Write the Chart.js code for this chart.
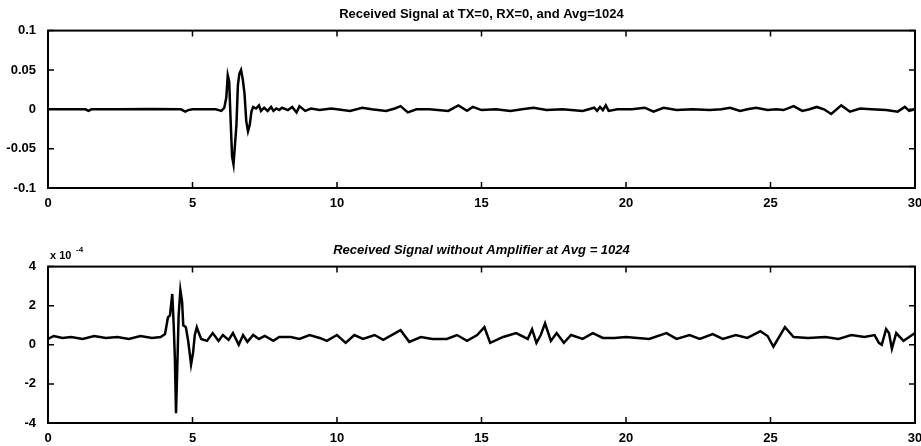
<!DOCTYPE html>
<html lang="en">
<head>
  <meta charset="UTF-8">
  <title>Received Signal</title>
  <script src="https://cdn.jsdelivr.net/npm/chart.js"></script>
  <style>
    body {
      margin: 0;
      background: #fff;
      width: 921px;
      height: 446px;
      position: relative;
      overflow: hidden;
    }
    canvas {
      position: absolute;
      left: 0;
    }
    #topCanvas { top: 0; }
    #bottomCanvas { top: 216px; }
  </style>
</head>
<body>
  <canvas id="topCanvas" width="921" height="216"></canvas>
  <canvas id="bottomCanvas" width="921" height="230"></canvas>

  <script>
    // time axis (same for both plots)
    const xTicks = [0, 5, 10, 15, 20, 25, 30];

    // top plot: received signal with amplifier
    const topTitle = 'Received Signal at TX=0, RX=0, and Avg=1024';
    const topYTicks = [-0.1, -0.05, 0, 0.05, 0.1];
    const topTime = [
      0, 0.5, 1.0, 1.3, 1.4, 1.5, 2.5, 3.5, 4.6, 4.75, 4.85, 5.0, 5.8, 6.0, 6.1,
      6.17, 6.22, 6.27, 6.32, 6.37, 6.42, 6.47, 6.52, 6.57, 6.62, 6.68, 6.74, 6.8, 6.86, 6.92,
      6.98, 7.04, 7.1, 7.2, 7.3, 7.37, 7.48, 7.6, 7.72, 7.8, 7.9, 8.0, 8.1, 8.3, 8.45,
      8.6, 8.7, 8.9, 9.1, 9.4, 9.8, 10.2, 10.45, 10.87, 11.2, 11.7, 12.0, 12.2, 12.45, 12.75,
      13.2, 13.85, 14.2, 14.5, 14.7, 15.0, 15.5, 16.0, 16.4, 16.8, 17.25, 17.8, 18.5, 18.9, 19.0,
      19.1, 19.2, 19.3, 19.4, 19.7, 20.2, 20.65, 20.95, 21.3, 21.75, 22.3, 22.9, 23.3, 23.6, 23.95,
      24.2, 24.5, 24.9, 25.2, 25.45, 25.8, 26.1, 26.35, 26.6, 26.85, 27.1, 27.45, 27.75, 28.1, 28.5,
      29.0, 29.4, 29.65, 29.8, 30
    ];
    const topSignal = [
      0, 0, 0, 0, -0.002, 0, 0, 0.0005, 0, -0.003, -0.001, 0, 0, -0.002, 0.002,
      0.015, 0.043, 0.035, -0.015, -0.06, -0.07, -0.045, -0.02, 0.03, 0.045, 0.05, 0.038, 0.02, -0.015, -0.028,
      -0.02, -0.003, 0.003, 0.001, 0.005, -0.002, 0.002, -0.002, 0.003, -0.002, 0.001, -0.001, 0.002, -0.001, 0.003,
      -0.004, 0.004, -0.002, 0.001, -0.001, 0.001, -0.001, -0.002, 0.002, 0, -0.002, 0.001, 0.004, -0.004, 0,
      0, -0.002, 0.005, -0.002, 0.003, -0.001, 0, -0.002, 0, 0.002, -0.001, 0, -0.002, 0.002, -0.002,
      0.003, -0.001, 0.005, -0.002, 0, 0, 0.002, -0.003, 0.002, -0.001, 0, -0.001, 0, 0.002, -0.002,
      0, 0.002, -0.001, 0, -0.001, 0.004, -0.002, 0, 0.003, 0, -0.006, 0.005, -0.003, 0.001, 0,
      -0.001, -0.003, 0.003, -0.002, 0
    ];

    // bottom plot: without amplifier, values in units of 1e-4
    const bottomTitle = 'Received Signal without Amplifier at Avg = 1024';
    const bottomYTicks = [-4, -2, 0, 2, 4];
    const bottomTime = [
      0, 0.2, 0.5, 0.8, 1.2, 1.6, 2.0, 2.4, 2.8, 3.2, 3.6, 3.9, 4.05, 4.15, 4.22,
      4.3, 4.35, 4.39, 4.43, 4.48, 4.52, 4.58, 4.64, 4.68, 4.77, 4.85, 4.95, 5.02, 5.08, 5.15,
      5.22, 5.3, 5.5, 5.7, 5.9, 6.05, 6.25, 6.4, 6.6, 6.75, 6.9, 7.1, 7.3, 7.5, 7.8,
      8.0, 8.4, 8.7, 9.05, 9.4, 9.65, 10.0, 10.3, 10.6, 10.9, 11.3, 11.6, 12.2, 12.5, 12.9,
      13.3, 13.8, 14.15, 14.5, 14.85, 15.1, 15.3, 15.75, 16.2, 16.6, 16.75, 16.9, 17.05, 17.2, 17.4,
      17.6, 17.85, 18.1, 18.5, 18.85, 19.2, 19.6, 20.0, 20.4, 20.8, 21.4, 21.75, 22.2, 22.55, 23.0,
      23.35, 23.8, 24.2, 24.65, 24.9, 25.1, 25.5, 25.8, 26.3, 26.9, 27.35, 27.8, 28.25, 28.6, 28.75,
      28.85, 29.0, 29.1, 29.2, 29.35, 29.6, 29.8, 30
    ];
    const bottomSignal = [
      0.3, 0.45, 0.35, 0.4, 0.3, 0.45, 0.35, 0.4, 0.3, 0.45, 0.35, 0.4, 0.55, 1.4, 1.5,
      2.6, 1.0, -0.7, -3.5, -0.8, 1.5, 2.8, 2.2, 1.0, 0.9, 0.2, -1.0, -0.4, 0.5, 0.9,
      0.6, 0.3, 0.2, 0.6, 0.2, 0.5, 0.25, 0.6, 0.0, 0.5, 0.15, 0.5, 0.3, 0.45, 0.2,
      0.4, 0.4, 0.3, 0.5, 0.35, 0.2, 0.5, 0.1, 0.5, 0.3, 0.5, 0.25, 0.75, 0.15, 0.4,
      0.3, 0.3, 0.5, 0.2, 0.5, 0.9, 0.1, 0.4, 0.6, 0.3, 0.8, 0.1, 0.5, 1.1, 0.2,
      0.6, 0.1, 0.5, 0.3, 0.6, 0.35, 0.35, 0.4, 0.35, 0.3, 0.6, 0.3, 0.5, 0.3, 0.55,
      0.3, 0.5, 0.35, 0.7, 0.45, -0.1, 0.9, 0.4, 0.35, 0.4, 0.3, 0.5, 0.4, 0.5, 0.1,
      0.0, 0.8, 0.6, -0.2, 0.6, 0.2, 0.4, 0.6
    ];

    const FONT = "'Liberation Sans', Arial, sans-serif";

    // box round the plot area plus inward tick marks on all four sides (matlab look)
    const framePlugin = {
      id: 'frame',
      afterDraw(chart, args, opts) {
        const { ctx, chartArea: a, scales } = chart;
        ctx.save();
        ctx.strokeStyle = '#000';
        ctx.lineWidth = 2;
        ctx.strokeRect(a.left, a.top, a.right - a.left, a.bottom - a.top);
        ctx.lineWidth = 1.5;
        ctx.beginPath();
        xTicks.forEach(v => {
          const px = scales.x.getPixelForValue(v);
          ctx.moveTo(px, a.bottom); ctx.lineTo(px, a.bottom - 6);
          ctx.moveTo(px, a.top); ctx.lineTo(px, a.top + 6);
        });
        opts.yTicks.forEach(v => {
          const py = scales.y.getPixelForValue(v);
          ctx.moveTo(a.left, py); ctx.lineTo(a.left + 6, py);
          ctx.moveTo(a.right, py); ctx.lineTo(a.right - 6, py);
        });
        ctx.stroke();
        if (opts.exponent) {
          ctx.fillStyle = '#000';
          ctx.font = 'bold 11px ' + FONT;
          ctx.textBaseline = 'middle';
          ctx.fillText('x 10', a.left + 2, a.top - 11);
          ctx.font = 'bold 8px ' + FONT;
          ctx.fillText('-4', a.left + 28, a.top - 17);
        }
        ctx.restore();
      }
    };

    function makeChart(id, title, time, signal, yTicks, titlePad, xHeight, exponent) {
      return new Chart(document.getElementById(id), {
        type: 'line',
        data: {
          datasets: [{
            data: time.map((t, i) => ({ x: t, y: signal[i] })),
            borderColor: '#000',
            borderWidth: 2.5,
            pointRadius: 0,
            tension: 0
          }]
        },
        options: {
          responsive: false,
          animation: false,
          devicePixelRatio: 1,
          layout: { padding: { left: 0, right: 6, top: 0, bottom: 0 } },
          plugins: {
            legend: { display: false },
            tooltip: { enabled: false },
            title: {
              display: true,
              text: title,
              fullSize: false,
              color: '#000',
              font: { family: FONT, size: 13, weight: 'bold', style: exponent ? 'italic' : 'normal', lineHeight: 1.2 },
              padding: titlePad
            },
            frame: { yTicks: yTicks, exponent: exponent }
          },
          scales: {
            x: {
              type: 'linear',
              min: 0,
              max: 30,
              grid: { display: false },
              border: { display: false },
              afterBuildTicks: s => { s.ticks = xTicks.map(v => ({ value: v })); },
              afterFit: s => { s.height = xHeight; s.paddingLeft = 0; s.paddingRight = 0; },
              ticks: {
                color: '#000',
                padding: 0,
                maxRotation: 0,
                autoSkip: false,
                font: { family: FONT, size: 13, weight: 'bold' }
              }
            },
            y: {
              min: yTicks[0],
              max: yTicks[yTicks.length - 1],
              grid: { display: false },
              border: { display: false },
              afterBuildTicks: s => { s.ticks = yTicks.map(v => ({ value: v })); },
              afterFit: s => { s.width = 48; s.paddingTop = 0; s.paddingBottom = 0; },
              ticks: {
                color: '#000',
                padding: 4,
                autoSkip: false,
                callback: v => String(v),
                font: { family: FONT, size: 13, weight: 'bold' }
              }
            }
          }
        },
        plugins: [framePlugin]
      });
    }

    makeChart('topCanvas', topTitle, topTime, topSignal, topYTicks, { top: 7, bottom: 8 }, 28, false);
    makeChart('bottomCanvas', bottomTitle, bottomTime, bottomSignal, bottomYTicks, { top: 27, bottom: 8 }, 23, true);
  </script>
</body>
</html>
